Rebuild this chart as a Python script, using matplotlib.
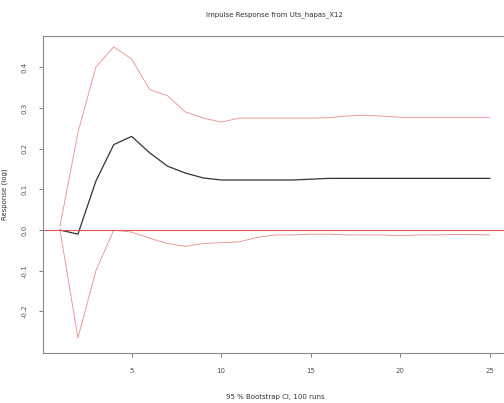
import matplotlib.pyplot as plt
import numpy as np

# horizon steps 1..25
steps = np.arange(1, 26)
irf = [0.0, -0.01, 0.12, 0.21, 0.23, 0.19, 0.157, 0.14, 0.128, 0.123,
       0.123, 0.123, 0.123, 0.123, 0.125, 0.127, 0.127, 0.127, 0.127, 0.127,
       0.127, 0.127, 0.127, 0.127, 0.127]
upper = [0.01, 0.24, 0.40, 0.45, 0.42, 0.345, 0.33, 0.29, 0.275, 0.265,
         0.275, 0.275, 0.275, 0.275, 0.275, 0.276, 0.28, 0.282, 0.28, 0.277,
         0.277, 0.277, 0.277, 0.277, 0.277]
lower = [0.0, -0.265, -0.10, 0.0, -0.005, -0.02, -0.033, -0.04, -0.033, -0.031,
         -0.029, -0.018, -0.012, -0.012, -0.01, -0.01, -0.012, -0.012, -0.012, -0.014,
         -0.012, -0.012, -0.011, -0.011, -0.012]

xticks = [5, 10, 15, 20, 25]
yticks = [-0.2, -0.1, 0.0, 0.1, 0.2, 0.3, 0.4]

fig = plt.figure(figsize=(5.04, 4.03), dpi=100)
ax = fig.add_axes([0.085, 0.124, 0.921, 0.787])

ax.plot(steps, irf, color='#333333', lw=0.9)
ax.plot(steps, upper, color='#f08a8a', lw=0.6)
ax.plot(steps, lower, color='#f08a8a', lw=0.6)
ax.axhline(0, color='#e05555', lw=0.8)

ax.set_xlim(0.04, 25.96)
ax.set_ylim(-0.302, 0.477)
ax.set_xticks(xticks)
ax.set_xticklabels([str(t) for t in xticks])
ax.set_yticks(yticks)
ax.set_yticklabels(["%.1f" % t for t in yticks], rotation=90, va='center')
ax.tick_params(labelsize=5, length=3, width=0.6, color='#666666', labelcolor='#555555', pad=8)
for s in ax.spines.values():
    s.set_color('#888888')
    s.set_linewidth(0.8)

ax.set_title("Impulse Response from Uts_hapas_X12", fontsize=5, color='#333333', pad=14)
ax.set_xlabel("95 % Bootstrap CI, 100 runs", fontsize=5, color='#333333', labelpad=14)
ax.set_ylabel("Response (log)", fontsize=5, color='#333333', labelpad=10)

fig.savefig("out.png", dpi=100)
